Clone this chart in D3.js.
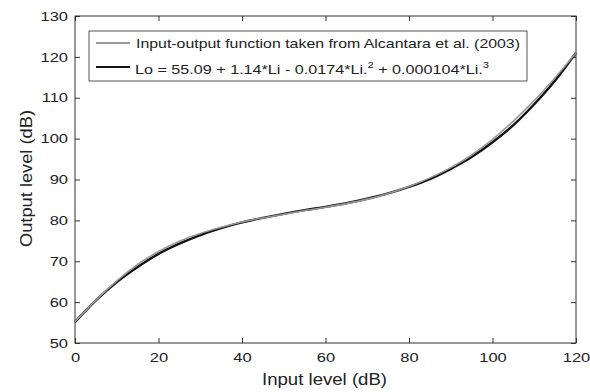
<!DOCTYPE html>
<html>
<head>
<meta charset="utf-8">
<script src="https://cdn.jsdelivr.net/npm/d3@7"></script>
<style>
  body { margin: 0; background: #fff; }
  svg { font-family: "Liberation Sans", Arial, sans-serif; }
</style>
</head>
<body>
<div id="chart"></div>
<script>
var svgwidth = 590;
var svgheight = 392;

var margin = { top: 16, right: 14, bottom: 49, left: 75 };
var width = svgwidth - margin.left - margin.right;
var height = svgheight - margin.top - margin.bottom;

// input level (dB)
var inputLevels = [0, 5, 10, 15, 20, 25, 30, 35, 40, 45, 50, 55, 60,
                   65, 70, 75, 80, 85, 90, 95, 100, 105, 110, 115, 120];
// Alcantara et al. (2003)
var alcantara = [55.2, 60.5, 65.2, 69.2, 72.4, 74.9, 76.8, 78.3, 79.6, 80.6, 81.5, 82.4, 83.2,
                 84.1, 85.2, 86.6, 88.3, 90.4, 92.9, 96.0, 99.8, 104.3, 109.3, 114.9, 121.0];
// cubic fit
var fitted = [55.1, 60.4, 64.9, 68.6, 71.8, 74.3, 76.4, 78.1, 79.5, 80.6, 81.6, 82.5, 83.3,
              84.2, 85.3, 86.6, 88.2, 90.1, 92.6, 95.5, 99.1, 103.3, 108.4, 114.2, 121.0];

var xTicks = [0, 20, 40, 60, 80, 100, 120];
var yTicks = [50, 60, 70, 80, 90, 100, 110, 120, 130];

var legendLabels = ["Input-output function taken from Alcantara et al. (2003)", "fit"];

// the original text is a bit stretched sideways
var stretch = 1.27;

var svg = d3.select("#chart").append("svg")
    .attr("width", svgwidth)
    .attr("height", svgheight);

var chartgroup = svg.append("g")
    .attr("transform", `translate(${margin.left}, ${margin.top})`);

var x = d3.scaleLinear().domain([0, 120]).range([0, width]);
var y = d3.scaleLinear().domain([50, 130]).range([height, 0]);

var axisColor = "#333";

function styleAxis(g) {
  g.select(".domain").remove();
  g.selectAll("line").attr("stroke", axisColor);
  g.selectAll("text")
    .attr("fill", "#222")
    .style("font-size", "13px")
    .attr("transform", `scale(${stretch},1)`);
}

// bottom / left axes with ticks pointing inward
chartgroup.append("g")
  .attr("transform", `translate(0, ${height})`)
  .call(d3.axisBottom(x).tickValues(xTicks).tickSizeInner(-5).tickSizeOuter(0).tickPadding(10))
  .call(styleAxis);

chartgroup.append("g")
  .call(d3.axisLeft(y).tickValues(yTicks).tickSizeInner(-5).tickSizeOuter(0).tickPadding(5.5))
  .call(styleAxis);

// top / right ticks without labels
chartgroup.append("g")
  .call(d3.axisTop(x).tickValues(xTicks).tickSizeInner(-5).tickSizeOuter(0).tickFormat(""))
  .call(styleAxis);

chartgroup.append("g")
  .attr("transform", `translate(${width}, 0)`)
  .call(d3.axisRight(y).tickValues(yTicks).tickSizeInner(-5).tickSizeOuter(0).tickFormat(""))
  .call(styleAxis);

// frame
chartgroup.append("rect")
  .attr("width", width)
  .attr("height", height)
  .attr("fill", "none")
  .attr("stroke", axisColor)
  .attr("stroke-width", 1);

var line = d3.line()
  .x(function(d, i) { return x(inputLevels[i]); })
  .y(function(d) { return y(d); })
  .curve(d3.curveMonotoneX);

chartgroup.append("path")
  .datum(fitted)
  .attr("d", line)
  .attr("fill", "none")
  .attr("stroke", "#111")
  .attr("stroke-width", 2.4);

chartgroup.append("path")
  .datum(alcantara)
  .attr("d", line)
  .attr("fill", "none")
  .attr("stroke", "#9a9a9a")
  .attr("stroke-width", 1.6);

// legend
var legend = chartgroup.append("g").attr("transform", "translate(14, 15)");
legend.append("rect")
  .attr("width", 438)
  .attr("height", 50)
  .attr("fill", "#fff")
  .attr("stroke", "#555");

legend.append("line")
  .attr("x1", 7).attr("x2", 41).attr("y1", 12).attr("y2", 12)
  .attr("stroke", "#9a9a9a").attr("stroke-width", 1.8);
legend.append("text")
  .attr("x", 47).attr("y", 16.5)
  .attr("textLength", 384).attr("lengthAdjust", "spacingAndGlyphs")
  .style("font-size", "13px").attr("fill", "#222")
  .text(legendLabels[0]);

legend.append("line")
  .attr("x1", 7).attr("x2", 41).attr("y1", 36).attr("y2", 36)
  .attr("stroke", "#111").attr("stroke-width", 2.2);
var eq = legend.append("text")
  .attr("x", 46).attr("y", 42.5)
  .attr("textLength", 354).attr("lengthAdjust", "spacingAndGlyphs")
  .style("font-size", "13px").attr("fill", "#222");
eq.append("tspan").text("Lo = 55.09 + 1.14*Li - 0.0174*Li.");
eq.append("tspan").attr("dy", -6).style("font-size", "9px").text("2");
eq.append("tspan").attr("dy", 6).text(" + 0.000104*Li.");
eq.append("tspan").attr("dy", -6).style("font-size", "9px").text("3");

// axis labels
svg.append("text")
  .attr("x", 262)
  .attr("y", 385)
  .attr("textLength", 125).attr("lengthAdjust", "spacingAndGlyphs")
  .style("font-size", "16px").attr("fill", "#222")
  .text("Input level (dB)");

svg.append("text")
  .attr("transform", "translate(32, 247) rotate(-90)")
  .attr("textLength", 137).attr("lengthAdjust", "spacingAndGlyphs")
  .style("font-size", "16px").attr("fill", "#222")
  .text("Output level (dB)");
</script>
</body>
</html>
